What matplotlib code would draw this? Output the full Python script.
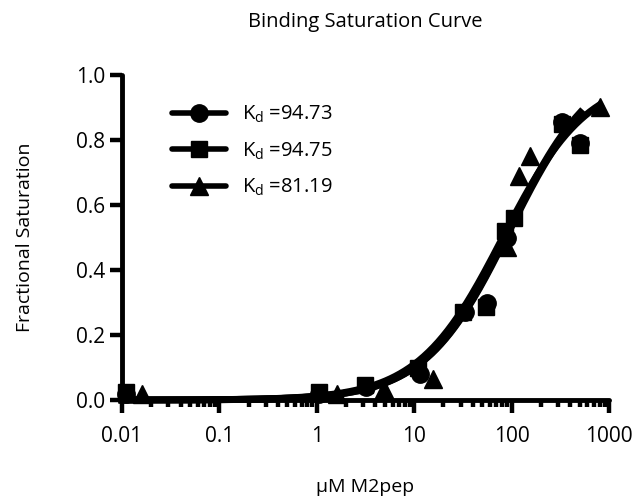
import matplotlib
matplotlib.use('Agg')
import matplotlib.pyplot as plt
from matplotlib.ticker import LogLocator, NullFormatter, FixedLocator
import numpy as np

plt.rcParams['font.family'] = ['Open Sans', 'DejaVu Sans']
plt.rcParams['mathtext.fontset'] = 'custom'
plt.rcParams['mathtext.rm'] = 'Open Sans'

# data (uM M2pep vs fractional saturation)
circle_x = [0.011, 1.05, 3.2, 11.5, 33, 56, 90, 330, 510]
circle_y = [0.02, 0.02, 0.04, 0.08, 0.27, 0.30, 0.50, 0.855, 0.79]
square_x = [0.011, 1.05, 3.1, 11, 32, 55, 85, 107, 330, 510]
square_y = [0.025, 0.025, 0.045, 0.10, 0.27, 0.285, 0.52, 0.56, 0.85, 0.785]
triangle_x = [0.016, 1.6, 4.9, 15.5, 90, 120, 155, 800]
triangle_y = [0.02, 0.02, 0.035, 0.065, 0.47, 0.69, 0.75, 0.90]

# one-site binding fits shown in the legend
kd = [94.73, 94.75, 81.19]
bmax = [1.05, 1.04, 1.0]
labels = [r'K$_{\mathrm{d}}$ =94.73', r'K$_{\mathrm{d}}$ =94.75', r'K$_{\mathrm{d}}$ =81.19']

xticks = [0.01, 0.1, 1, 10, 100, 1000]
xticklabels = ['0.01', '0.1', '1', '10', '100', '1000']
yticks = [0.0, 0.2, 0.4, 0.6, 0.8, 1.0]
yticklabels = ['0.0', '0.2', '0.4', '0.6', '0.8', '1.0']

fig = plt.figure(figsize=(6.39, 5.04), dpi=100)
ax = fig.add_axes([0.1909, 0.2063, 0.7621, 0.6449])

series = [(circle_x, circle_y, 'o', 12.5), (square_x, square_y, 's', 12), (triangle_x, triangle_y, '^', 12.5)]
handles = []
for (sx, sy, m, ms), k, b, lab in zip(series, kd, bmax, labels):
    xs = np.logspace(-2, np.log10(max(sx)), 300)
    ax.plot(xs, b * xs / (k + xs), color='black', lw=5, zorder=3, clip_on=False)
    ax.plot(sx, sy, linestyle='none', marker=m, ms=ms, color='black', zorder=4, clip_on=False)
    h, = ax.plot([], [], color='black', lw=4, marker=m, ms=ms, solid_capstyle='round')
    handles.append(h)

ax.set_xscale('log')
ax.set_xlim(0.01, 1000)
ax.set_ylim(0, 1.0)
for s in ['top', 'right']:
    ax.spines[s].set_visible(False)
for s in ['left', 'bottom']:
    ax.spines[s].set_linewidth(3.5)
    ax.spines[s].set_capstyle('round')

ax.xaxis.set_major_locator(FixedLocator(xticks))
ax.set_xticklabels(xticklabels)
ax.xaxis.set_minor_locator(LogLocator(base=10, subs=np.arange(2, 10)))
ax.xaxis.set_minor_formatter(NullFormatter())
ax.set_yticks(yticks)
ax.set_yticklabels(yticklabels)
ax.tick_params(axis='both', which='major', direction='out', length=9, width=3.2, labelsize=15, color='black')
ax.tick_params(axis='x', which='minor', direction='out', length=5, width=3.2)
ax.tick_params(axis='x', which='major', pad=10)
ax.tick_params(axis='y', which='major', pad=3)

ax.set_ylabel('Fractional Saturation', fontsize=14, labelpad=30)
ax.set_xlabel('\u00b5M M2pep', fontsize=14, labelpad=22)
fig.text(0.5716, 1 - 22 / 504, 'Binding Saturation Curve', ha='center', va='center', fontsize=14.5)

ax.legend(handles, labels, loc='upper left', bbox_to_anchor=(172 / 639, 1 - 104 / 504),
          bbox_transform=fig.transFigure, frameon=False, fontsize=14.5, handlelength=2.7,
          handletextpad=0.8, labelspacing=0.75, borderpad=0, borderaxespad=0)

fig.savefig('out.png', dpi=100)
